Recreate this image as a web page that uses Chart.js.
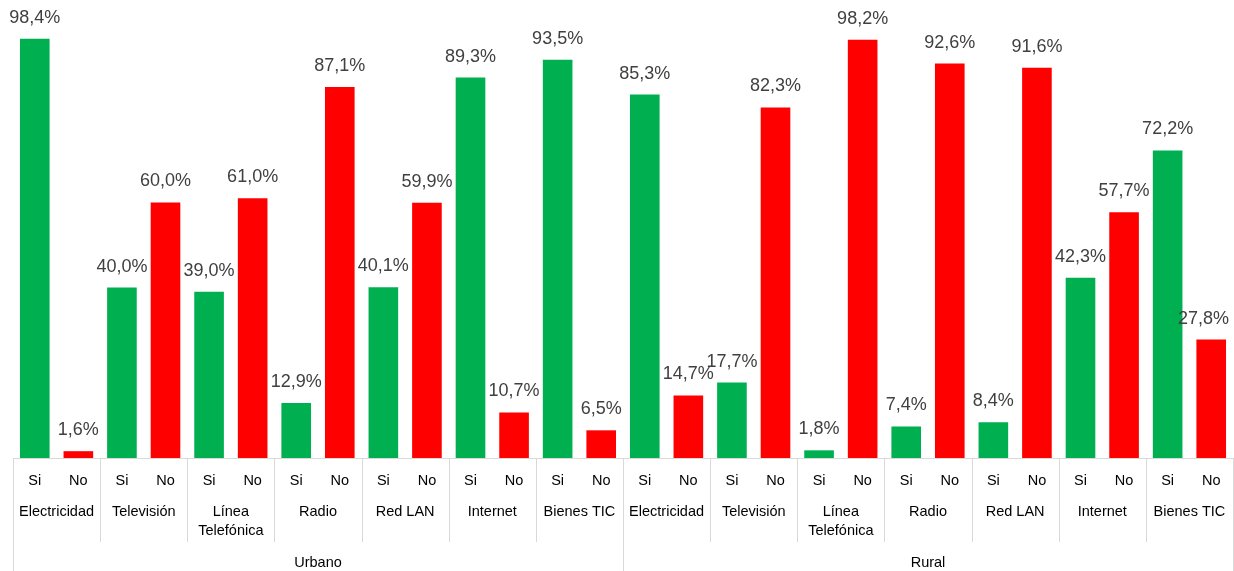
<!DOCTYPE html>
<html>
<head>
<meta charset="utf-8">
<script src="https://cdn.jsdelivr.net/npm/chart.js@4.4.0/dist/chart.umd.min.js"></script>
<style>
html,body{margin:0;padding:0;background:#fff;}
#wrap{width:1234px;height:571px;position:relative;}
</style>
</head>
<body>
<div id="wrap"><canvas id="c" width="1234" height="571"></canvas></div>
<script>
// ---- data ----
const groups = ["Urbano", "Rural"];
const items = ["Electricidad", "Televisión", "Línea\nTelefónica", "Radio", "Red LAN", "Internet", "Bienes TIC"];
const answerLabels = ["Si", "No"];
const urbanoSi = [98.4, 40.0, 39.0, 12.9, 40.1, 89.3, 93.5];
const urbanoNo = [1.6, 60.0, 61.0, 87.1, 59.9, 10.7, 6.5];
const ruralSi  = [85.3, 17.7, 1.8, 7.4, 8.4, 42.3, 72.2];
const ruralNo  = [14.7, 82.3, 98.2, 92.6, 91.6, 57.7, 27.8];

const categories = groups.flatMap(g => items.map(it => g + "|" + it));
const siValues = urbanoSi.concat(ruralSi);
const noValues = urbanoNo.concat(ruralNo);

const FONT = "'Liberation Sans', Arial, sans-serif";

const axisPlugin = {
  id: 'multiAxis',
  afterDatasetsDraw(chart) {
    const ctx = chart.ctx;
    const area = chart.chartArea;
    const xs = chart.scales.x;
    const n = categories.length;
    const catW = (area.right - area.left) / n;
    const baseY = area.bottom;
    ctx.save();
    // data labels
    ctx.fillStyle = '#404040';
    ctx.font = '18px ' + FONT;
    ctx.textAlign = 'center';
    ctx.textBaseline = 'alphabetic';
    chart.data.datasets.forEach((ds, di) => {
      const meta = chart.getDatasetMeta(di);
      meta.data.forEach((bar, i) => {
        const v = ds.data[i];
        const txt = v.toFixed(1).replace('.', ',') + '%';
        const w = ctx.measureText(txt).width;
        let x = bar.x;
        const maxX = chart.width - 5 - w / 2;
        if (x > maxX) x = maxX;
        ctx.fillText(txt, x, bar.y - 16);
      });
    });
    // axis lines
    ctx.strokeStyle = '#d9d9d9';
    ctx.lineWidth = 1;
    ctx.beginPath();
    ctx.moveTo(area.left, baseY + 0.5);
    ctx.lineTo(area.right, baseY + 0.5);
    for (let i = 0; i <= n; i++) {
      const x = Math.round(area.left + i * catW) + 0.5;
      const full = (i % items.length === 0);
      ctx.moveTo(x, baseY);
      ctx.lineTo(x, full ? 571 : baseY + 84);
    }
    ctx.stroke();
    // Si / No labels
    ctx.fillStyle = '#000000';
    ctx.font = '14.5px ' + FONT;
    ctx.textBaseline = 'middle';
    chart.data.datasets.forEach((ds, di) => {
      const meta = chart.getDatasetMeta(di);
      meta.data.forEach(bar => {
        ctx.fillText(answerLabels[di], bar.x, baseY + 23);
      });
    });
    // item labels
    for (let i = 0; i < n; i++) {
      const cx = xs.getPixelForValue(i);
      const lines = items[i % items.length].split('\n');
      lines.forEach((ln, k) => ctx.fillText(ln, cx, baseY + 54 + k * 19));
    }
    // group labels
    groups.forEach((g, gi) => {
      const x0 = area.left + gi * items.length * catW;
      const x1 = x0 + items.length * catW;
      ctx.fillText(g, (x0 + x1) / 2, baseY + 105);
    });
    ctx.restore();
  }
};

new Chart(document.getElementById('c'), {
  type: 'bar',
  data: {
    labels: categories,
    datasets: [
      { label: 'Si', data: siValues, backgroundColor: '#00B050', categoryPercentage: 1.0, barPercentage: 0.68 },
      { label: 'No', data: noValues, backgroundColor: '#FF0000', categoryPercentage: 1.0, barPercentage: 0.68 }
    ]
  },
  options: {
    responsive: false,
    animation: false,
    devicePixelRatio: 1,
    layout: { padding: { left: 13, right: 1, top: 32, bottom: 113 } },
    plugins: { legend: { display: false }, tooltip: { enabled: false } },
    scales: {
      x: { display: false },
      y: { display: false, min: 0, max: 100 }
    }
  },
  plugins: [axisPlugin]
});
</script>
</body>
</html>
